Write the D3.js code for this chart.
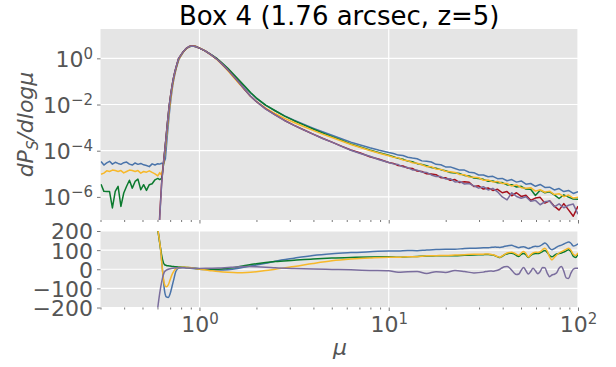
<!DOCTYPE html>
<html>
<head>
<meta charset="utf-8">
<script src="https://cdnjs.cloudflare.com/ajax/libs/d3/7.8.5/d3.min.js"></script>
<style>
  body { margin: 0; background: #fff; }
  svg { display: block; }
  text { font-family: "DejaVu Sans", sans-serif; }
</style>
</head>
<body>
<svg id="chart" width="616" height="367"></svg>
<script>
// ---- magnification grid (log10 mu) for the PDF panel ----
const logMuTop = [
  -0.52,-0.505,-0.49,-0.475,-0.46,-0.445,-0.43,-0.415,-0.4,-0.385,-0.37,-0.355,-0.34,-0.325,-0.31,-0.295,-0.28,-0.265,-0.25,-0.235,-0.22,
  -0.21,-0.2,-0.19,-0.18,-0.17,-0.16,-0.15,-0.14,-0.13,-0.12,-0.11,-0.1,-0.085,-0.07,-0.055,-0.04,-0.02,0,
  0.03,0.06,0.09,0.12,0.15,0.18,0.21,0.24,0.27,0.3,0.35,0.4,0.45,0.5,0.55,0.6,0.65,0.7,0.75,0.8,0.85,0.9,0.95,1,
  1.025,1.05,1.075,1.1,1.125,1.15,1.175,1.2,1.225,1.25,1.275,1.3,1.325,1.35,1.375,1.4,1.425,1.45,1.475,1.5,
  1.525,1.55,1.575,1.6,1.625,1.65,1.675,1.7,1.725,1.75,1.775,1.8,1.825,1.85,1.875,1.9,1.925,1.95,1.975,2
];

// ---- log10 dP_S/dlog(mu) per model ----
const pdfBlue = [
  -4.47,-4.62,-4.53,-4.46,-4.58,-4.5,-4.55,-4.59,-4.52,-4.49,-4.58,-4.62,-4.53,-4.59,-4.55,-4.61,-4.64,-4.69,-4.57,-4.62,-4.56,
  -4.58,-4.54,-4.56,-4.35,-3.35,-2.45,-1.7,-1.1,-0.68,-0.35,-0.08,0.08,0.27,0.42,0.5,0.53,0.51,0.44,
  0.32,0.16,-0.01,-0.23,-0.46,-0.72,-0.98,-1.24,-1.5,-1.73,-2.04,-2.27,-2.49,-2.68,-2.85,-3.02,-3.18,-3.33,-3.48,-3.63,-3.75,-3.87,-3.98,-4.08,
  -4.12,-4.19,-4.21,-4.28,-4.32,-4.35,-4.44,-4.46,-4.49,-4.59,-4.61,-4.7,-4.7,-4.77,-4.84,-4.84,-4.93,-4.95,-5.05,-5.05,
  -5.13,-5.11,-5.21,-5.2,-5.3,-5.25,-5.36,-5.31,-5.45,-5.42,-5.54,-5.46,-5.59,-5.58,-5.7,-5.64,-5.77,-5.72,-5.85,-5.78
];
const pdfGreen = [
  -5.45,-5.76,-5.77,-5.77,-6.48,-5.76,-5.54,-6.41,-5.83,-5.54,-5.28,-5.62,-5.33,-5.23,-5.69,-5.47,-5.72,-5.47,-5.43,-5.26,-5.2,
  -5.25,-5.2,-4.6,-3.75,-2.9,-2.1,-1.5,-0.98,-0.6,-0.3,-0.02,0.11,0.29,0.42,0.5,0.53,0.51,0.44,
  0.32,0.17,0.01,-0.2,-0.43,-0.69,-0.95,-1.21,-1.48,-1.71,-2.03,-2.27,-2.5,-2.7,-2.88,-3.06,-3.23,-3.39,-3.55,-3.71,-3.84,-3.97,-4.09,-4.2,
  -4.26,-4.33,-4.37,-4.45,-4.48,-4.56,-4.6,-4.65,-4.73,-4.76,-4.82,-4.87,-4.94,-4.96,-4.99,-5.07,-5.09,-5.18,-5.2,-5.24,
  -5.32,-5.31,-5.39,-5.38,-5.48,-5.47,-5.57,-5.54,-5.66,-5.67,-5.94,-5.71,-5.82,-5.78,-5.91,-6.07,-5.91,-6.01,-6.09,-6.1
];
const pdfYellow = [
  -5.02,-4.97,-4.87,-4.9,-4.84,-4.86,-4.9,-4.86,-4.96,-4.9,-4.84,-4.86,-4.9,-4.86,-4.97,-4.9,-4.93,-4.87,-4.94,-5,-5.09,
  -4.95,-5.05,-4.6,-3.9,-3.05,-2.25,-1.6,-1.05,-0.65,-0.32,-0.05,0.09,0.28,0.42,0.5,0.545,0.52,0.45,
  0.32,0.15,-0.04,-0.28,-0.54,-0.82,-1.1,-1.37,-1.64,-1.86,-2.16,-2.39,-2.6,-2.78,-2.95,-3.12,-3.28,-3.43,-3.58,-3.73,-3.86,-3.99,-4.11,-4.22,
  -4.28,-4.31,-4.4,-4.43,-4.52,-4.54,-4.61,-4.69,-4.69,-4.79,-4.81,-4.89,-4.91,-4.94,-5.03,-5.04,-5.14,-5.15,-5.17,-5.28,
  -5.27,-5.35,-5.33,-5.42,-5.42,-5.53,-5.48,-5.6,-5.63,-5.6,-5.75,-5.69,-5.8,-5.75,-5.9,-5.86,-5.99,-5.92,-6.05,-6.01
];
const pdfRed = [
  null,null,null,null,null,null,null,null,null,null,null,null,null,null,null,null,null,null,null,null,-8.5,
  -6.8,-5.4,-4.5,-3.7,-2.85,-2.05,-1.45,-0.95,-0.58,-0.28,0,0.12,0.3,0.43,0.51,0.535,0.51,0.44,
  0.32,0.16,-0.02,-0.25,-0.5,-0.78,-1.06,-1.36,-1.64,-1.87,-2.19,-2.45,-2.69,-2.9,-3.09,-3.28,-3.46,-3.63,-3.8,-3.97,-4.1,-4.26,-4.37,-4.51,
  -4.55,-4.64,-4.66,-4.75,-4.77,-4.88,-4.9,-5,-5.01,-5.04,-5.17,-5.17,-5.28,-5.25,-5.38,-5.34,-5.37,-5.55,-5.52,-5.66,
  -5.61,-5.72,-5.67,-5.82,-5.77,-5.95,-5.82,-5.98,-5.93,-6.15,-6.05,-6.02,-6.27,-6.17,-6.4,-6.57,-6.29,-6.56,-6.84,-6.4
];
const pdfPurple = [
  null,null,null,null,null,null,null,null,null,null,null,null,null,null,null,null,null,null,null,null,-8.6,
  -6.9,-5.45,-4.52,-3.72,-2.86,-2.06,-1.46,-0.96,-0.58,-0.28,0,0.12,0.3,0.43,0.51,0.535,0.51,0.44,
  0.32,0.16,-0.02,-0.25,-0.5,-0.78,-1.06,-1.36,-1.64,-1.87,-2.2,-2.45,-2.7,-2.9,-3.1,-3.28,-3.47,-3.63,-3.81,-3.98,-4.12,-4.24,-4.39,-4.51,
  -4.57,-4.6,-4.7,-4.73,-4.83,-4.84,-4.92,-4.94,-5.05,-5.12,-5.12,-5.22,-5.21,-5.35,-5.33,-5.44,-5.42,-5.52,-5.62,-5.56,
  -5.7,-5.63,-5.78,-6,-6.13,-5.82,-5.98,-6.06,-5.99,-6.19,-6.15,-6.34,-6.21,-6.18,-6.43,-6.3,-6.47,-6.36,-6.31,-6.75
];

// ---- magnification grid (log10 mu) for the residual panel ----
const logMuBottom = [
  -0.225,-0.215,-0.205,-0.195,-0.185,-0.175,-0.165,-0.155,-0.145,-0.135,-0.125,-0.11,-0.09,-0.07,-0.05,-0.025,0,
  0.05,0.1,0.15,0.2,0.25,0.3,0.35,0.4,0.5,0.6,0.7,0.8,0.9,1,1.05,1.1,1.15,1.2,1.25,1.3,1.35,1.4,1.45,
  1.5,1.5125,1.525,1.5375,1.55,1.5625,1.575,1.5875,1.6,1.6125,1.625,1.6375,1.65,1.6625,1.675,1.6875,1.7,1.7125,1.725,1.7375,
  1.75,1.7625,1.775,1.7875,1.8,1.8125,1.825,1.8375,1.85,1.8625,1.875,1.8875,1.9,1.9125,1.925,1.9375,1.95,1.9625,1.975,1.9875,2
];
// ---- residuals (%) ----
const resBlue = [
  240,178,100,-8,-109,-145,-148,-128,-90,-50,-12,6,9,8,5,2,0,
  -2,-4,-2,4,13,22,31,42,58,72,81,87,92,95,95,98,97,101,103,105,104,109,110,
  112,113,112,114,115,116,115,114,116,120,122,124,125,121,116,113,116,118,114,108,
  112,118,120,119,122,130,137,128,110,102,108,116,122,126,132,138,142,136,122,125,133
];
const resYellow = [
  240,175,100,-10,-78,-92,-82,-55,-28,-10,3,9,11,10,9,4,0,
  -6,-12,-16,-18,-17,-13,-7,0,14,30,44,53,59,63,63,66,66,70,71,72,74,76,78,
  79,80,80,78,76,72,66,63,70,78,85,88,89,85,78,73,85,93,82,64,
  75,86,89,88,92,102,110,95,65,49,62,75,85,92,98,104,110,100,78,72,85
];
const resGreen = [
  240,170,105,50,24,20,18,17,15,14,13,12,11,9,8,5,3,
  1,0,5,12,21,29,35,40,47,54,59,62,64,65,63,65,67,69,70,71,70,73,75,
  76,77,77,76,74,70,65,61,68,76,80,83,84,80,72,67,78,82,75,62,
  72,80,82,82,86,93,98,88,72,65,72,80,82,85,90,96,102,92,68,62,80
];
const resPurple = [
  -240,-160,-95,-45,-14,-5,0,3,5,6,7,8,8,7,6,5,4,
  5,6,9,12,14,13,11,8,4,1,-1,-3,-6,-8,-16,-13,-12,-22,-13,-17,-7,-12,-19,
  -15,-12,-10,-9,-10,-8,-5,0,8,13,14,8,-5,-20,-28,-25,-5,9,-8,-25,
  -12,5,-8,-23,-12,9,8,-20,-39,-30,-26,-18,5,14,-10,-45,-48,-20,0,5,5
];

// ---- ticks ----
const xMajorTicks = [1, 10, 100];
const xMinorTicks = [0.3,0.4,0.5,0.6,0.7,0.8,0.9,2,3,4,5,6,7,8,9,20,30,40,50,60,70,80,90];
const yTopTicks = [1, 1e-2, 1e-4, 1e-6];
const yBottomTicks = [-200, -100, 0, 100, 200];

const titleText = "Box 4 (1.76 arcsec, z=5)";
const colors = { blue: "#4a74aa", green: "#0b7a2e", yellow: "#f7b82a", red: "#a50f1c", purple: "#7a6d9d" };

// ---- layout ----
const svg = d3.select("#chart");
const L = 100.5, R = 578;
const top0 = 29, top1 = 220;
const bot0 = 231, bot1 = 307.5;
const tickColor = "#555555";

const x = d3.scaleLog().domain([0.3, 100]).range([L, R]);
const yTop = d3.scaleLog().domain([1e-7, Math.pow(10, 1.27)]).range([top1, top0]);
const yBot = d3.scaleLinear().domain([-200, 200]).range([bot1, bot0]);

// panel backgrounds
[[top0, top1], [bot0, bot1]].forEach(([a, b], i) => {
  svg.append("rect").attr("x", L).attr("y", a).attr("width", R - L).attr("height", b - a)
    .attr("fill", "#e5e5e5");
  svg.append("clipPath").attr("id", "clip" + i)
    .append("rect").attr("x", L).attr("y", a).attr("width", R - L).attr("height", b - a);
});

// grid
const grid = svg.append("g").attr("stroke", "#ffffff").attr("stroke-width", 1.2);
xMajorTicks.forEach(v => {
  grid.append("line").attr("x1", x(v)).attr("x2", x(v)).attr("y1", top0).attr("y2", top1);
  grid.append("line").attr("x1", x(v)).attr("x2", x(v)).attr("y1", bot0).attr("y2", bot1);
});
yTopTicks.forEach(v => grid.append("line").attr("x1", L).attr("x2", R).attr("y1", yTop(v)).attr("y2", yTop(v)));
yBottomTicks.forEach(v => grid.append("line").attr("x1", L).attr("x2", R).attr("y1", yBot(v)).attr("y2", yBot(v)));

// superscript label helper (10^n)
function powerLabel(sel, exp) {
  sel.text(null);
  sel.append("tspan").text("10");
  sel.append("tspan").attr("dy", -8).attr("font-size", 15).text(String(exp).replace("-", "\u2212"));
}

function styleAxis(g) {
  g.select(".domain").remove();
  g.selectAll(".tick line").attr("stroke", tickColor).attr("stroke-width", 0.8);
  g.selectAll(".tick text").attr("fill", tickColor).attr("font-size", 22)
    .attr("font-family", "DejaVu Sans");
}

// x axes (both panels), minor then major
[top1, bot1].forEach((yy, i) => {
  const gMin = svg.append("g").attr("transform", `translate(0,${yy})`)
    .call(d3.axisBottom(x).tickValues(xMinorTicks).tickSize(2).tickFormat(""));
  styleAxis(gMin);
  const gMaj = svg.append("g").attr("transform", `translate(0,${yy})`)
    .call(d3.axisBottom(x).tickValues(xMajorTicks).tickSize(3.5).tickPadding(6)
      .tickFormat(i === 1 ? (d => String(Math.round(Math.log10(d)))) : ""));
  styleAxis(gMaj);
  if (i === 1) {
    gMaj.selectAll(".tick text").attr("dy", null).attr("y", 24)
      .each(function (d) { powerLabel(d3.select(this), Math.round(Math.log10(d))); });
  }
});

// y axes
const gyT = svg.append("g").attr("transform", `translate(${L},0)`)
  .call(d3.axisLeft(yTop).tickValues(yTopTicks).tickSize(3.5).tickPadding(4).tickFormat(d => ""));
styleAxis(gyT);
gyT.selectAll(".tick text").attr("dy", "0.36em")
  .each(function (d) { powerLabel(d3.select(this), Math.round(Math.log10(d))); });

const gyB = svg.append("g").attr("transform", `translate(${L},0)`)
  .call(d3.axisLeft(yBot).tickValues(yBottomTicks).tickSize(3.5).tickPadding(4)
    .tickFormat(d => String(d).replace("-", "\u2212")));
styleAxis(gyB);
gyB.selectAll(".tick text").attr("dy", "0.36em");

// PDF curves
const lineTop = d3.line()
  .defined(d => d.v !== null)
  .x(d => x(Math.pow(10, d.m)))
  .y(d => yTop(Math.pow(10, d.v)));
const topLayer = svg.append("g").attr("clip-path", "url(#clip0)");
[[pdfBlue, colors.blue], [pdfGreen, colors.green], [pdfYellow, colors.yellow],
 [pdfRed, colors.red], [pdfPurple, colors.purple]].forEach(([vals, c]) => {
  topLayer.append("path")
    .datum(logMuTop.map((m, i) => ({ m, v: vals[i] })))
    .attr("fill", "none").attr("stroke", c).attr("stroke-width", 1.5)
    .attr("stroke-linejoin", "round").attr("d", lineTop);
});

// residual curves
const lineBot = d3.line()
  .curve(d3.curveMonotoneX)
  .x(d => x(Math.pow(10, d.m)))
  .y(d => yBot(d.v));
const botLayer = svg.append("g").attr("clip-path", "url(#clip1)");
[[resBlue, colors.blue], [resGreen, colors.green], [resYellow, colors.yellow],
 [resPurple, colors.purple]].forEach(([vals, c]) => {
  botLayer.append("path")
    .datum(logMuBottom.map((m, i) => ({ m, v: vals[i] })))
    .attr("fill", "none").attr("stroke", c).attr("stroke-width", 1.5)
    .attr("stroke-linejoin", "round").attr("d", lineBot);
});

// title and axis labels
svg.append("text").attr("x", (L + R) / 2).attr("y", 25).attr("text-anchor", "middle")
  .attr("font-size", 26).attr("fill", "#000").text(titleText);

const yl = svg.append("text")
  .attr("transform", `translate(33,${(top0 + top1) / 2}) rotate(-90)`)
  .attr("text-anchor", "middle").attr("font-size", 22).attr("fill", tickColor)
  .attr("font-style", "italic");
yl.append("tspan").text("dP");
yl.append("tspan").attr("font-size", 15).attr("dy", 5).text("S");
yl.append("tspan").attr("dy", -5).text("/dlog\u03bc");

svg.append("text").attr("x", 340).attr("y", 355).attr("text-anchor", "middle")
  .attr("font-size", 22).attr("fill", tickColor).attr("font-style", "italic").text("\u03bc");
</script>
</body>
</html>
